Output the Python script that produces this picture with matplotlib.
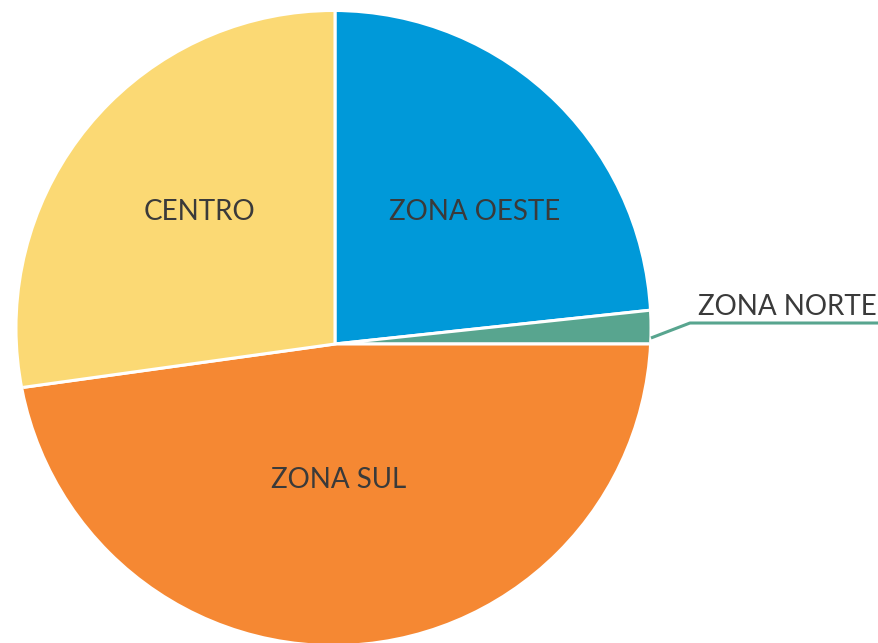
import matplotlib.pyplot as plt

# data (share of each zone)
zones = ['ZONA OESTE', 'ZONA NORTE', 'ZONA SUL', 'CENTRO']
shares = [23.3, 1.7, 47.8, 27.2]
colors = ['#0099D9', '#58A58F', '#F58833', '#FBD974']

fig = plt.figure(figsize=(8.79, 6.43), dpi=100)
ax = fig.add_axes([0, 0, 1, 1])

# the slices meet a bit below the centre of the disc, so draw a larger pie
# from that point and clip it to the disc
wedges, _ = ax.pie(shares, colors=colors, startangle=90, counterclock=False,
                   radius=1.4, center=(0.0047, -0.0506),
                   wedgeprops=dict(edgecolor='white', linewidth=2.2))
disc = plt.Circle((0, 0), 1.0, transform=ax.transData)
for w in wedges:
    w.set_clip_on(True)
    w.set_clip_path(disc)

ax.set_xlim(-1.0554, 1.7263)
ax.set_ylim(-0.9968, 1.0380)
ax.set_aspect('equal')
ax.axis('off')

font = dict(family=['Lato', 'DejaVu Sans'], fontsize=20, color='#3a3a3a')
ax.text(0.448, 0.367, zones[0], ha='center', va='center', **font)
ax.text(0.0174, -0.481, zones[2], ha='center', va='center', **font)
ax.text(-0.4256, 0.367, zones[3], ha='center', va='center', **font)

# leader line for the thin slice
ax.plot([1.0047, 1.128, 1.726], [-0.0316, 0.0158, 0.0158], color=colors[1],
        linewidth=2.2, solid_capstyle='butt')
ax.text(1.435, 0.0665, zones[1], ha='center', va='center', **font)

plt.savefig('out.png', dpi=100)
